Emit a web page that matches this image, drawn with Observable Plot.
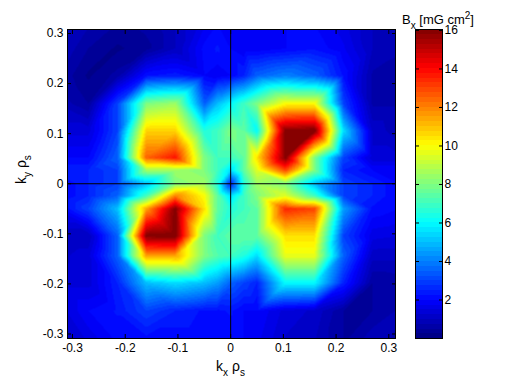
<!DOCTYPE html>
<html><head><meta charset="utf-8">
<script src="https://cdn.jsdelivr.net/npm/d3@7"></script>
<script src="https://cdn.jsdelivr.net/npm/@observablehq/plot@0.6"></script>
<style>
html,body{margin:0;background:#fff;}
#c{position:relative;width:512px;height:384px;overflow:hidden;}
#c svg{position:absolute;left:0;top:0;background:transparent;font-family:"Liberation Sans",Arial,sans-serif;}
</style></head><body><div id="c"></div>
<script>
const kx=[-0.32,-0.27,-0.215,-0.16,-0.105,-0.05,-0.025,0,0.025,0.05,0.104,0.159,0.214,0.269,0.32];
const ky=[0.32,0.27,0.216,0.16,0.106,0.052,0.027,0,-0.024,-0.05,-0.104,-0.144,-0.198,-0.254,-0.32];
const row0=[1.2,0.8,0.5,0.6,1,1.7,2,2,2,2,2,2,1.6,1,0.8];
const row1=[1,0.5,0.2,0.4,1,2.1,2.3,2,1.8,1.8,2,2.2,1.8,1,0.8];
const row2=[0.7,0.2,0.6,2.2,2.4,2,1.8,2,2.5,3.5,4,3.5,2.2,0.7,0.6];
const row3=[0.9,0.5,3,8,8.5,3.5,5,6,7,8,10,10,3,0.7,0.7];
const row4=[1.4,1.4,3,10.7,10.7,6.5,7,8,7.5,6,16,16.2,5.5,1.2,0.8];
const row5=[2,2,3.5,12.5,13.8,8,7,7,7.5,10.5,16,8,3,1.3,1.3];
const row6=[2.5,2.5,3,8.5,8.5,8,7,5.5,7.5,9.5,13,8,2.5,2,2];
const row7=[2,2.5,3,5,8,8.5,6.5,2.5,6.5,8.5,8,5,3,2.5,2];
const row8=[2,2.5,3.5,7,12,10,7.5,5.5,7,8,9.5,7,3,2.5,2];
const row9=[2,3,5,11.5,16,10.5,7.5,6.5,7,7.5,13.5,13,4.5,2.2,2];
const row10=[1,1,3.5,16,16.2,8,7,7.5,7.5,7.5,10.5,10.5,3,1.6,1.5];
const row11=[1.2,1.4,3.5,11.5,11.5,8,7.3,7,6.5,5.5,9.7,9.7,3.5,1.1,1.1];
const row12=[1.4,1.4,2.5,5,5.5,5,4.5,3.5,3,2.5,6,6,2.5,0.5,0.6];
const row13=[1.4,2,2.3,3,2.5,2.2,2.2,2.3,2,2,1.4,1.2,0.5,0.5,0.8];
const row14=[0.9,1.5,2,2,2,2,2,2,2,1.8,1.2,1,0.5,1,0.6];
const rows=[row0,row1,row2,row3,row4,row5,row6,row7,row8,row9,row10,row11,row12,row13,row14];
const peakX=[0.13,-0.133,0.077];
const peakY=[0.079,-0.077,0.08];
const peakV=[16,14.5,12.5];
const xTicks=[-0.3,-0.2,-0.1,0,0.1,0.2,0.3];
const yTicks=[-0.3,-0.2,-0.1,0,0.1,0.2,0.3];
const barTicks=[2,4,6,8,10,12,14,16];
const levelCount=64;
const cMax=16.05;

function jet(t){
  const i=Math.min(levelCount-1,Math.floor(t*levelCount));
  const u=(i+0.5)/levelCount;
  const f=c=>Math.round(255*Math.max(0,Math.min(1,1.5-Math.abs(4*u-c))));
  return `rgb(${f(3)},${f(2)},${f(1)})`;
}
const colorScale={type:"linear",domain:[0,cMax],interpolate:jet};
const points=rows.flatMap((r,j)=>r.map((v,i)=>({x:kx[i],y:ky[j],v})))
  .concat(peakV.map((v,i)=>({x:peakX[i],y:peakY[i],v})));
const fmt=d=>String(d);
const fs=12;

function subs(svg){
  d3.select(svg).selectAll("text").each(function(){
    const el=d3.select(this);
    const target=el.selectAll("tspan").empty()?el:el.select("tspan");
    const s=target.text();
    if(!/[_^]/.test(s))return;
    target.text(null);
    const parts=s.split(/([_^]\{[^}]*\})/).filter(Boolean);
    let pending=0;
    parts.forEach(p=>{
      const m=p.match(/^([_^])\{(.*)\}$/);
      if(m){
        const d=m[1]==="_"?5:-5;
        target.append("tspan").attr("dy",d+pending).style("font-size","10px").text(m[2]);
        pending=-d;
      }else{
        target.append("tspan").attr("dy",pending).text(p);
        pending=0;
      }
    });
  });
}

const main=Plot.plot({
  width:512,height:384,
  marginLeft:67,marginRight:117,marginTop:29,marginBottom:46,
  style:{fontSize:fs+"px",background:"transparent"},
  x:{domain:[-0.3095,0.3127]},
  y:{domain:[-0.309,0.308]},
  color:colorScale,
  marks:[
    Plot.raster(points,{x:"x",y:"y",fill:"v",interpolate:"barycentric",pixelSize:1}),
    Plot.ruleX([0],{stroke:"black"}),
    Plot.ruleY([0],{stroke:"black"}),
    Plot.axisX({anchor:"bottom",ticks:xTicks,tickSize:-4,tickPadding:9,tickFormat:fmt,label:null,stroke:"black",fill:"black",fontSize:fs}),
    Plot.axisX({anchor:"top",ticks:xTicks,tickSize:-4,tickFormat:()=>"",label:null,stroke:"black"}),
    Plot.axisY({anchor:"left",ticks:yTicks,tickSize:-4,tickPadding:8,tickFormat:fmt,label:null,stroke:"black",fill:"black",fontSize:fs}),
    Plot.axisY({anchor:"right",ticks:yTicks,tickSize:-4,tickFormat:()=>"",label:null,stroke:"black"}),
    Plot.frame({stroke:"black"}),
    Plot.text(["k_{x} ρ_{s}"],{frameAnchor:"bottom",dy:32,dx:-1,fontSize:14,fill:"black",lineAnchor:"bottom",clip:false}),
    Plot.text(["k_{y} ρ_{s}"],{frameAnchor:"left",dx:-46,rotate:-90,fontSize:14,fill:"black",clip:false})
  ]
});
subs(main);

const levels=d3.range(levelCount);
const bar=Plot.plot({
  width:512,height:384,
  marginLeft:415,marginRight:70,marginTop:29,marginBottom:46,
  style:{fontSize:fs+"px",background:"transparent"},
  x:{domain:[0,1],axis:null},
  y:{domain:[0,cMax]},
  color:colorScale,
  marks:[
    Plot.rect(levels,{x1:0,x2:1,y1:d=>d*cMax/levelCount,y2:d=>(d+1)*cMax/levelCount,fill:d=>(d+0.5)*cMax/levelCount,shapeRendering:"crispEdges",inset:-0.3}),
    Plot.axisY({anchor:"right",ticks:barTicks,tickSize:-4,tickPadding:6,tickFormat:fmt,label:null,stroke:"black",fill:"black",fontSize:fs}),
    Plot.axisY({anchor:"left",ticks:barTicks,tickSize:-4,tickFormat:()=>"",label:null,stroke:"black"}),
    Plot.frame({stroke:"black"}),
    Plot.text(["B_{x} [mG cm^{2}]"],{frameAnchor:"top",dx:9,dy:-15,fontSize:13,fill:"black",clip:false})
  ]
});
subs(bar);
const c=document.getElementById("c");
c.append(main);
c.append(bar);
</script></body></html>
